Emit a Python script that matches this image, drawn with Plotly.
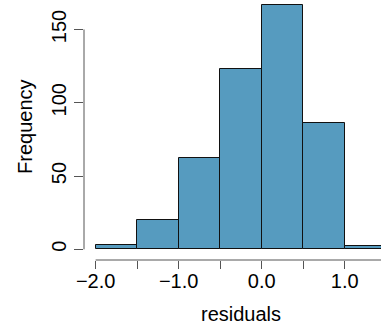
import plotly.graph_objects as go

# Histogram data
bin_edges = [-2.0, -1.5, -1.0, -0.5, 0.0, 0.5, 1.0, 1.5]
counts = [3, 20, 62, 123, 167, 86, 2]

x_tickvals = [-2.0, -1.5, -1.0, -0.5, 0.0, 0.5, 1.0]
x_ticktext = ["\u22122.0", "", "\u22121.0", "", "0.0", "", "1.0"]
y_tickvals = [0, 50, 100, 150]
y_ticktext = ["0", "50", "100", "150"]

centers = [(a + b) / 2 for a, b in zip(bin_edges[:-1], bin_edges[1:])]
widths = [b - a for a, b in zip(bin_edges[:-1], bin_edges[1:])]

FONT = "Liberation Sans, Arial, Helvetica, sans-serif"
FS = 20
AXC = "#555555"

fig = go.Figure()
fig.add_trace(go.Bar(
    x=centers, y=counts, width=widths,
    marker=dict(color="#569bbf", line=dict(color="#111111", width=1)),
    hoverinfo="skip",
))

fig.update_layout(
    width=381, height=328,
    margin=dict(l=84, r=0, t=0, b=68, autoexpand=False),
    paper_bgcolor="white", plot_bgcolor="white",
    showlegend=False, bargap=0, hovermode=False,
    font=dict(family=FONT, size=FS, color="black"),
    xaxis=dict(
        range=[-2.14, 1.437], showgrid=False, zeroline=False, showline=False,
        automargin=False,
        tickmode="array", tickvals=x_tickvals, ticktext=x_ticktext,
        ticks="outside", ticklen=8, tickcolor=AXC, tickwidth=1,
        ticklabelstandoff=-5,
        tickfont=dict(family=FONT, size=FS, color="black"),
    ),
    yaxis=dict(
        range=[-7.3, 170.1], showgrid=False, zeroline=False, showline=False,
        automargin=False,
        tickmode="array", tickvals=y_tickvals, ticktext=y_ticktext,
        ticks="outside", ticklen=9, tickcolor=AXC, tickwidth=1, tickangle=-90,
        tickfont=dict(family=FONT, size=FS, color="black"),
    ),
    shapes=[
        dict(type="line", xref="x", yref="paper", x0=bin_edges[0], x1=bin_edges[-1],
             y0=0, y1=0, line=dict(color=AXC, width=1)),
        dict(type="line", xref="paper", yref="y", x0=0, x1=0,
             y0=y_tickvals[0], y1=y_tickvals[-1], line=dict(color=AXC, width=1)),
    ],
    annotations=[
        dict(text="residuals", xref="paper", yref="paper", x=0.5286, y=0,
             yshift=-54, showarrow=False, xanchor="center", yanchor="middle",
             font=dict(family=FONT, size=FS, color="black")),
        dict(text="Frequency", xref="paper", yref="paper", x=0, y=0.512,
             xshift=-59, showarrow=False, xanchor="center", yanchor="middle",
             textangle=-90, font=dict(family=FONT, size=FS, color="black")),
    ],
)

fig.write_html("out.html", config={"displayModeBar": False},
               post_script="document.body.style.margin='0px';")
